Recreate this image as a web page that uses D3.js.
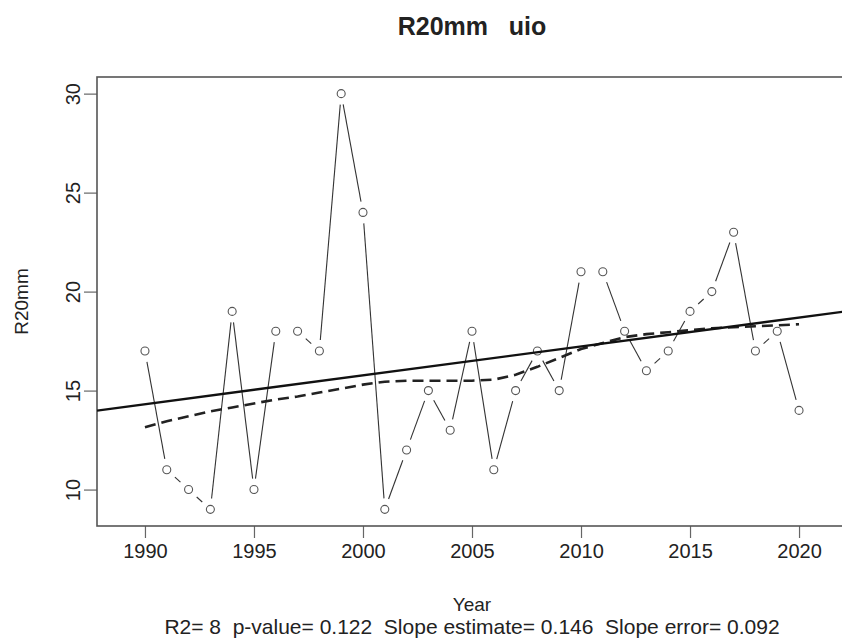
<!DOCTYPE html>
<html>
<head>
<meta charset="utf-8">
<script src="https://cdn.jsdelivr.net/npm/d3@7"></script>
<style>
  body { margin: 0; background: #fff; }
  text { font-family: "Liberation Sans", Arial, sans-serif; fill: #222; }
</style>
</head>
<body>
<div id="chart"></div>
<script>
// data
const years = d3.range( 1990, 2021 );
const r20mm = [ 17, 11, 10, 9, 19, 10, 18, 18, 17, 30, 24, 9, 12, 15, 13, 18, 11, 15, 17, 15,
                21, 21, 18, 16, 17, 19, 20, 23, 17, 18, 14 ];
// smoothed trend (dashed)
const smooth = [ 13.15, 13.45, 13.7, 13.95, 14.15, 14.35, 14.55, 14.7, 14.9, 15.1, 15.3, 15.45, 15.5,
                 15.5, 15.5, 15.5, 15.55, 15.8, 16.2, 16.65, 17.1, 17.4, 17.7, 17.85, 17.95, 18.05,
                 18.15, 18.2, 18.25, 18.3, 18.35 ];
// linear fit (solid)
const fitAt1990 = 14.31;
const fitSlope = 0.146;
const xTicks = [ 1990, 1995, 2000, 2005, 2010, 2015, 2020 ];
const yTicks = [ 10, 15, 20, 25, 30 ];
const titleText = "R20mm\u00a0\u00a0\u00a0uio";
const statsText = "R2= 8  p-value= 0.122  Slope estimate= 0.146  Slope error= 0.092";

const width = 842, height = 641;
const plot = { left: 97, top: 77, right: 847, bottom: 526 };

const svg = d3.select( "#chart" )
  .append( "svg" )
  .attr( "width", width )
  .attr( "height", height );

const x = d3.scaleLinear().domain( [ 1987.8, 2022.2 ] ).range( [ plot.left, plot.right ] );
const y = d3.scaleLinear().domain( [ 8.16, 30.84 ] ).range( [ plot.bottom, plot.top ] );

svg.append( "clipPath" ).attr( "id", "clip" )
  .append( "rect" )
  .attr( "x", plot.left ).attr( "y", plot.top )
  .attr( "width", plot.right - plot.left ).attr( "height", plot.bottom - plot.top );

// title
svg.append( "text" )
  .attr( "x", ( plot.left + plot.right ) / 2 )
  .attr( "y", 35 )
  .attr( "text-anchor", "middle" )
  .style( "font-size", "25px" )
  .style( "font-weight", "bold" )
  .text( titleText );

// axes
const xAxis = svg.append( "g" )
  .attr( "transform", `translate(0,${ plot.bottom })` )
  .call( d3.axisBottom( x ).tickValues( xTicks ).tickFormat( d3.format( "d" ) ).tickSize( 12 ).tickPadding( 6 ) );
xAxis.select( ".domain" ).remove();
xAxis.selectAll( "line" ).attr( "stroke", "#666" ).attr( "stroke-width", 1.2 );
xAxis.selectAll( "text" ).style( "font-size", "20px" ).attr( "fill", "#222" );

const yAxis = svg.append( "g" )
  .attr( "transform", `translate(${ plot.left },0)` )
  .call( d3.axisLeft( y ).tickValues( yTicks ).tickSize( 13 ).tickPadding( 4 ) );
yAxis.select( ".domain" ).remove();
yAxis.selectAll( "line" ).attr( "stroke", "#666" ).attr( "stroke-width", 1.2 );
yAxis.selectAll( "text" )
  .style( "font-size", "20px" )
  .attr( "fill", "#222" )
  .attr( "text-anchor", "middle" )
  .attr( "dy", 0 )
  .attr( "transform", `translate(-17,0) rotate(-90)` )
  .attr( "x", 0 ).attr( "y", 0 );

// box
svg.append( "rect" )
  .attr( "x", plot.left ).attr( "y", plot.top )
  .attr( "width", plot.right - plot.left ).attr( "height", plot.bottom - plot.top )
  .attr( "fill", "none" )
  .attr( "stroke", "#555" )
  .attr( "stroke-width", 1.6 );

// axis titles
svg.append( "text" )
  .attr( "transform", `translate(28,${ ( plot.top + plot.bottom ) / 2 }) rotate(-90)` )
  .attr( "text-anchor", "middle" )
  .style( "font-size", "19px" )
  .text( "R20mm" );

svg.append( "text" )
  .attr( "x", ( plot.left + plot.right ) / 2 )
  .attr( "y", 611 )
  .attr( "text-anchor", "middle" )
  .style( "font-size", "19px" )
  .text( "Year" );

svg.append( "text" )
  .attr( "x", ( plot.left + plot.right ) / 2 )
  .attr( "y", 634 )
  .attr( "text-anchor", "middle" )
  .style( "font-size", "21px" )
  .style( "white-space", "pre" )
  .text( statsText );

const g = svg.append( "g" ).attr( "clip-path", "url(#clip)" );

// connecting segments with gaps around the points (type = "b")
const pts = years.map( ( yr, i ) => [ x( yr ), y( r20mm[ i ] ) ] );
const gap = 11;
const segs = d3.pairs( pts ).map( ( [ a, b ] ) => {
  const dx = b[ 0 ] - a[ 0 ], dy = b[ 1 ] - a[ 1 ];
  const len = Math.hypot( dx, dy );
  if ( len <= 2 * gap ) return null;
  const ux = dx / len, uy = dy / len;
  return [ a[ 0 ] + ux * gap, a[ 1 ] + uy * gap, b[ 0 ] - ux * gap, b[ 1 ] - uy * gap ];
} ).filter( s => s );

g.selectAll( "line.seg" )
  .data( segs )
  .enter()
  .append( "line" )
  .attr( "class", "seg" )
  .attr( "x1", d => d[ 0 ] ).attr( "y1", d => d[ 1 ] )
  .attr( "x2", d => d[ 2 ] ).attr( "y2", d => d[ 3 ] )
  .attr( "stroke", "#333" )
  .attr( "stroke-width", 1.1 );

g.selectAll( "circle" )
  .data( years )
  .enter()
  .append( "circle" )
  .attr( "cx", d => x( d ) )
  .attr( "cy", ( d, i ) => y( r20mm[ i ] ) )
  .attr( "r", 4 )
  .attr( "fill", "none" )
  .attr( "stroke", "#555" )
  .attr( "stroke-width", 1.1 );

// smoothed trend
g.append( "path" )
  .datum( years )
  .attr( "d", d3.line().x( d => x( d ) ).y( ( d, i ) => y( smooth[ i ] ) ) )
  .attr( "fill", "none" )
  .attr( "stroke", "#222" )
  .attr( "stroke-width", 2.6 )
  .attr( "stroke-dasharray", "11,6" );

// linear fit
const fit = yr => fitAt1990 + fitSlope * ( yr - 1990 );
g.append( "path" )
  .datum( x.domain() )
  .attr( "d", d3.line().x( d => x( d ) ).y( d => y( fit( d ) ) ) )
  .attr( "fill", "none" )
  .attr( "stroke", "#111" )
  .attr( "stroke-width", 2.4 );
</script>
</body>
</html>
